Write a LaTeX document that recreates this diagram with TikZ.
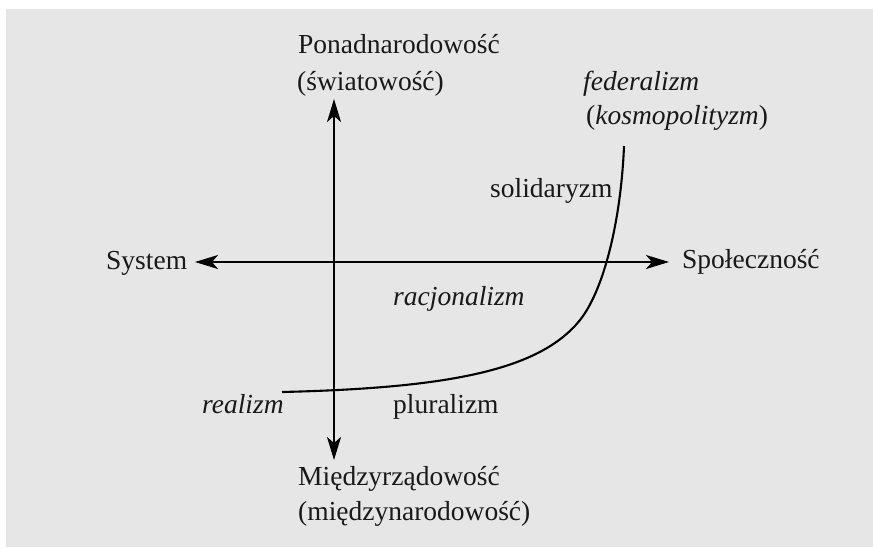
\documentclass[tikz,border=0pt]{standalone}
\usepackage{fontspec}
\setmainfont{Liberation Serif}
\usetikzlibrary{arrows.meta}
\definecolor{panel}{HTML}{E6E6E6}

\begin{document}
\begin{tikzpicture}[
  x=1pt, y=-1pt,
  font=\fontsize{27.5}{33}\selectfont,
  >={Stealth[length=23pt, width=14pt, inset=6pt]},
  lbl/.style={anchor=base west, inner sep=0pt, text=black!90},
  school/.style={lbl, font=\fontsize{27.5}{33}\selectfont\itshape},
  axis/.style={<->, line width=2.1pt},
  curve/.style={line width=2.1pt},
]

% panel
\useasboundingbox (0,0) rectangle (873,547);
\fill[panel] (6,9) rectangle (873,547);

% axis ends
\coordinate (N) at (334,99);
\coordinate (S) at (334,460);
\coordinate (W) at (195,262);
\coordinate (E) at (669,262);

% axis labels
\node[lbl] (pon)  at (298,53)  {Ponadnarodowość};
\node[lbl] (swi)  at (297,90)  {(światowość)};
\node[lbl] (mie)  at (298,485) {Międzyrządowość};
\node[lbl] (mna)  at (298,520) {(międzynarodowość)};
\node[lbl] (sys)  at (106,269) {System};
\node[lbl] (spo)  at (682,268) {Społeczność};

% schools
\node[school] (fed) at (583,90)  {federalizm};
\node[lbl]    (kos) at (586,124) {(\textit{kosmopolityzm})};
\node[lbl]    (sol) at (490,197) {solidaryzm};
\node[school] (rac) at (393,305) {racjonalizm};
\node[school] (rea) at (202,413) {realizm};
\node[lbl]    (plu) at (393,413) {pluralizm};

% axes
\draw[axis] (W) -- (E);
\draw[axis] (S) -- (N);

% realizm -> federalizm curve
\coordinate (cl) at (282,392);
\coordinate (ct) at (624,146);
\draw[curve] (cl) .. controls (450,388) and (540,370) .. (580,320)
                  .. controls (604,290) and (621,220) .. (ct);

\end{tikzpicture}
\end{document}
